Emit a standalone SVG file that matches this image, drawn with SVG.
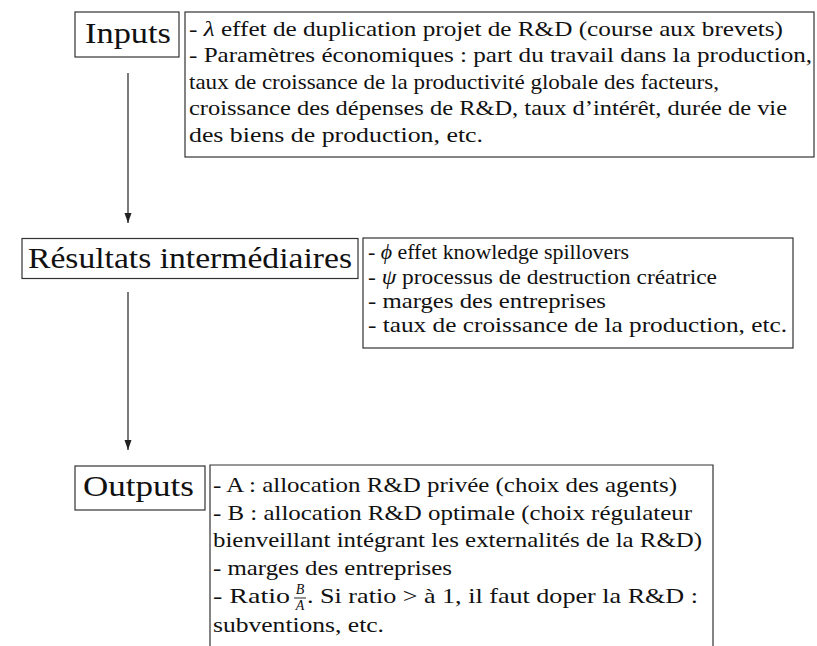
<svg xmlns="http://www.w3.org/2000/svg" width="817" height="646" viewBox="0 0 817 646">
<defs>
<style>
.box{fill:#fff;stroke:#333;stroke-width:1.2}
.title{font-size:30px;fill:#111}
.txt{font-size:21px;fill:#111}
.math{font-style:italic}
.frac{font-size:14px;font-style:italic;fill:#111}
.conn{stroke:#222;stroke-width:1.2;fill:none}
</style>
<marker id="arr" viewBox="0 0 10 10" refX="10" refY="5" markerWidth="10" markerHeight="10" markerUnits="userSpaceOnUse" orient="auto">
<path d="M0,1.5 L10,5 L0,8.5 Z" fill="#222"/>
</marker>
</defs>
<rect width="817" height="646" fill="#fff"/>
<g id="connectors">
<line class="conn" x1="128" y1="73" x2="128" y2="223" marker-end="url(#arr)"/>
<line class="conn" x1="128" y1="292" x2="128" y2="450" marker-end="url(#arr)"/>
</g>
<g font-family="'Liberation Serif', 'DejaVu Serif', 'Times New Roman', serif">
<g id="inputs">
<rect class="box" x="75" y="12" width="104" height="45"/>
<text class="title" x="85" y="43" textLength="86" lengthAdjust="spacingAndGlyphs">Inputs</text>
</g>
<g id="inputs-details">
<rect class="box" x="185" y="12" width="629" height="145"/>
<text class="txt" x="189" y="36" textLength="594" lengthAdjust="spacingAndGlyphs">- <tspan class="math">λ</tspan> effet de duplication projet de R&amp;D (course aux brevets)</text>
<text class="txt" x="189" y="62" textLength="623" lengthAdjust="spacingAndGlyphs">- Paramètres économiques : part du travail dans la production,</text>
<text class="txt" x="189" y="88.5" textLength="530" lengthAdjust="spacingAndGlyphs">taux de croissance de la productivité globale des facteurs,</text>
<text class="txt" x="189" y="115" textLength="598" lengthAdjust="spacingAndGlyphs">croissance des dépenses de R&amp;D, taux d’intérêt, durée de vie</text>
<text class="txt" x="189" y="141.5" textLength="294" lengthAdjust="spacingAndGlyphs">des biens de production, etc.</text>
</g>
<g id="resultats">
<rect class="box" x="22" y="238.5" width="336" height="40"/>
<text class="title" x="28" y="268" textLength="324" lengthAdjust="spacingAndGlyphs">Résultats intermédiaires</text>
</g>
<g id="resultats-details">
<rect class="box" x="363" y="238" width="430" height="110"/>
<text class="txt" x="368" y="259" textLength="261" lengthAdjust="spacingAndGlyphs">- <tspan class="math">ϕ</tspan> effet knowledge spillovers</text>
<text class="txt" x="368" y="284" textLength="349" lengthAdjust="spacingAndGlyphs">- <tspan class="math">ψ</tspan> processus de destruction créatrice</text>
<text class="txt" x="368" y="308" textLength="238" lengthAdjust="spacingAndGlyphs">- marges des entreprises</text>
<text class="txt" x="368" y="332" textLength="419" lengthAdjust="spacingAndGlyphs">- taux de croissance de la production, etc.</text>
</g>
<g id="outputs">
<rect class="box" x="75" y="466" width="130" height="44"/>
<text class="title" x="83" y="496" textLength="111" lengthAdjust="spacingAndGlyphs">Outputs</text>
</g>
<g id="outputs-details">
<path class="box" d="M210,647 V465 H713 V647"/>
<text class="txt" x="213" y="492" textLength="464" lengthAdjust="spacingAndGlyphs">- A : allocation R&amp;D privée (choix des agents)</text>
<text class="txt" x="213" y="520" textLength="479" lengthAdjust="spacingAndGlyphs">- B : allocation R&amp;D optimale (choix régulateur</text>
<text class="txt" x="213" y="547" textLength="489" lengthAdjust="spacingAndGlyphs">bienveillant intégrant les externalités de la R&amp;D)</text>
<text class="txt" x="213" y="575" textLength="239" lengthAdjust="spacingAndGlyphs">- marges des entreprises</text>
<text class="txt" x="213" y="603" textLength="77" lengthAdjust="spacingAndGlyphs">- Ratio</text>
<text class="frac" x="300" y="594" text-anchor="middle">B</text>
<line x1="294" y1="598" x2="306" y2="598" stroke="#111" stroke-width="0.9"/>
<text class="frac" x="300" y="610" text-anchor="middle">A</text>
<text class="txt" x="307" y="603" textLength="391" lengthAdjust="spacingAndGlyphs">. Si ratio &gt; à 1, il faut doper la R&amp;D :</text>
<text class="txt" x="213" y="632" textLength="171" lengthAdjust="spacingAndGlyphs">subventions, etc.</text>
</g>
</g>
</svg>
